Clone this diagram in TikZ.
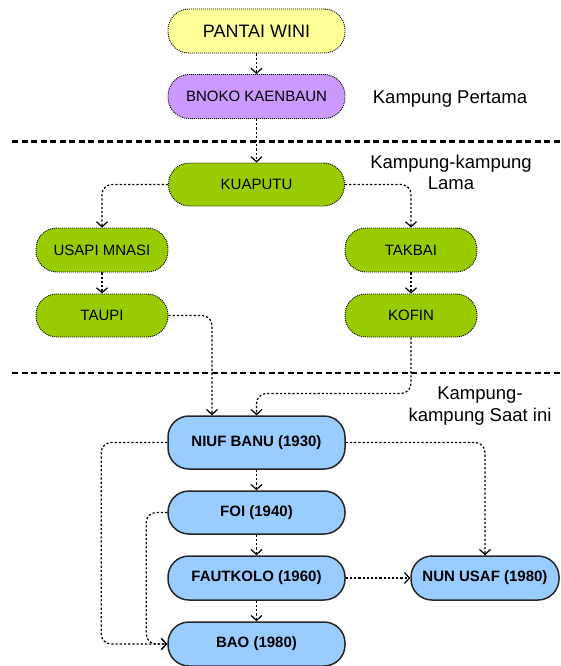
\documentclass[tikz,border=0pt]{standalone}
\usepackage{fontspec}
\setmainfont{Liberation Sans}
\usetikzlibrary{arrows.meta}
\definecolor{pantaiyellow}{HTML}{FFFF99}
\definecolor{bnokopurple}{HTML}{CC99FF}
\definecolor{lamagreen}{HTML}{99CC00}
\definecolor{kiniblue}{HTML}{99CCFF}
\newcommand\nodeh{44pt}
\tikzset{firstvil/.style={rectangle,rounded corners=21pt,draw=black,line width=0.9pt,dash pattern=on 1pt off 1pt,minimum width=177pt,minimum height=\nodeh,inner sep=0pt,font=\fontsize{15}{17}\selectfont}}
\tikzset{oldvil/.style={firstvil,fill=lamagreen,minimum width=132pt}}
\tikzset{newvil/.style={rectangle,rounded corners=21pt,draw=black!85,line width=1.5pt,fill=kiniblue,minimum width=177pt,minimum height=43pt,inner sep=0pt,font=\fontsize{15}{17}\selectfont\bfseries}}
\tikzset{link/.style={line width=1.2pt,dash pattern=on 2.2pt off 2pt,rounded corners=10pt,-{Straight Barb[length=5pt,width=11pt,line width=1.2pt]}}}
\tikzset{sep/.style={line width=2.6pt,dash pattern=on 6pt off 3.5pt}}
\tikzset{areatext/.style={align=center,font=\fontsize{18.5}{21.5}\selectfont}}

\begin{document}
\begin{tikzpicture}[x=1pt,y=-1pt]
\useasboundingbox (0,0) rectangle (560,666);
% garis pemisah
\draw[sep] (12,141.5) -- (560,141.5);
\draw[sep] (12,373) -- (560,373);

% kampung pertama
\node[firstvil,fill=pantaiyellow,font=\fontsize{18}{20}\selectfont] (pantai) at (256.5,31) {PANTAI WINI};
\node[firstvil,fill=bnokopurple] (bnoko) at (256.5,96.5) {BNOKO KAENBAUN};
\node[areatext] (pertama) at (450,99) {Kampung Pertama};

% kampung-kampung lama
\node[oldvil,minimum width=176pt,minimum height=43pt] (kuaputu) at (256.5,184.5) {KUAPUTU};
\node[oldvil] (usapi) at (102,250) {USAPI MNASI};
\node[oldvil,minimum height=43pt] (taupi) at (102,315.5) {TAUPI};
\node[oldvil] (takbai) at (411,250) {TAKBAI};
\node[oldvil,minimum height=43pt] (kofin) at (411,315.5) {KOFIN};
\node[areatext] (lama) at (451,172.5) {Kampung-kampung\\Lama};

% kampung-kampung saat ini
\node[newvil,minimum height=53pt] (niuf) at (256.5,442.5) {NIUF BANU (1930)};
\node[newvil] (foi) at (256.5,512.5) {FOI (1940)};
\node[newvil,minimum height=44pt] (fautkolo) at (256.5,578) {FAUTKOLO (1960)};
\node[newvil,minimum height=44pt] (bao) at (256.5,644) {BAO (1980)};
\node[newvil,minimum width=148pt,minimum height=44pt] (nunusaf) at (485,578) {NUN USAF (1980)};
\node[areatext] (kini) at (480,406) {Kampung-\\kampung Saat ini};

% hubungan
\draw[link] (pantai) -- (bnoko);
\draw[link] (bnoko) -- (kuaputu);
\draw[link] (kuaputu.west) -| (usapi.north);
\draw[link] (kuaputu.east) -| (takbai.north);
\draw[link] (usapi) -- (taupi);
\draw[link] (takbai) -- (kofin);
\draw[link] (taupi.east) -| ([xshift=-44.5pt]niuf.north);
\draw[link] (kofin.south) -- ++(0,56) -| (niuf.north);
\draw[link] (niuf) -- (foi);
\draw[link] (foi) -- (fautkolo);
\draw[link] (fautkolo) -- (bao);
\draw[link] (niuf.west) -- ++(-66,0) |- (bao.west);
\draw[link] (foi.west) -- ++(-21,0) |- (bao.west);
\draw[link] (niuf.east) -| (nunusaf.north);
\draw[link] (fautkolo) -- (nunusaf);
\end{tikzpicture}
\end{document}
